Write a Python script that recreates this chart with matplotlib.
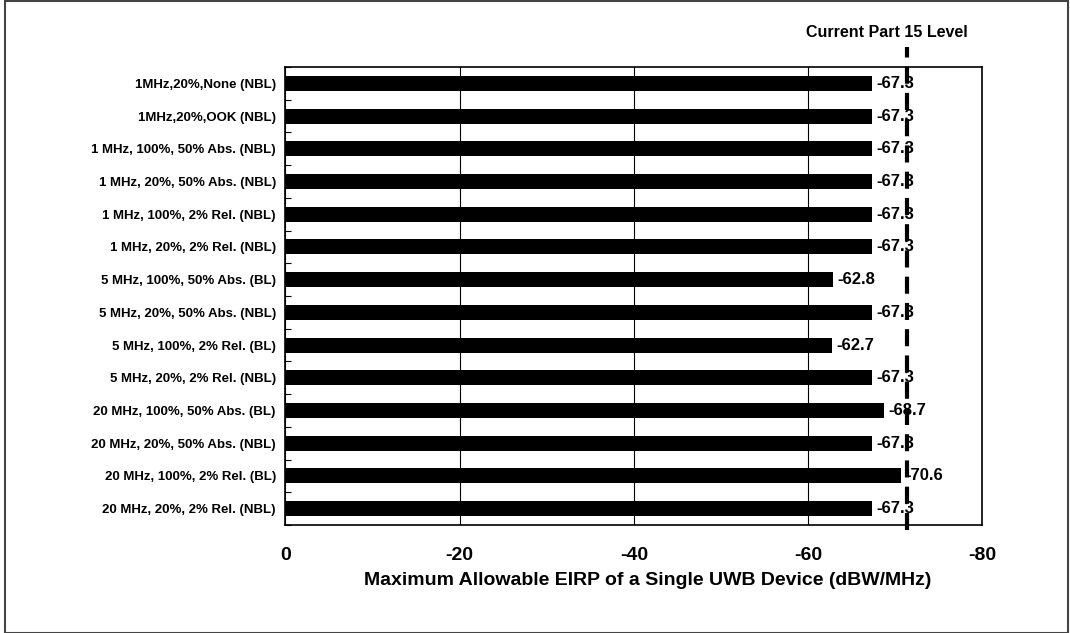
import numpy as np
import matplotlib
matplotlib.use("Agg")
import matplotlib.pyplot as plt
from matplotlib.patches import Rectangle

plt.rcParams['font.family'] = ['Liberation Sans', 'DejaVu Sans']
plt.rcParams['font.weight'] = 'bold'

labels = [
    "1MHz,20%,None (NBL)",
    "1MHz,20%,OOK (NBL)",
    "1 MHz, 100%, 50% Abs. (NBL)",
    "1 MHz, 20%, 50% Abs. (NBL)",
    "1 MHz, 100%, 2% Rel. (NBL)",
    "1 MHz, 20%, 2% Rel. (NBL)",
    "5 MHz, 100%, 50% Abs. (BL)",
    "5 MHz, 20%, 50% Abs. (NBL)",
    "5 MHz, 100%, 2% Rel. (BL)",
    "5 MHz, 20%, 2% Rel. (NBL)",
    "20 MHz, 100%, 50% Abs. (BL)",
    "20 MHz, 20%, 50% Abs. (NBL)",
    "20 MHz, 100%, 2% Rel. (BL)",
    "20 MHz, 20%, 2% Rel. (NBL)",
]
values = [-67.3, -67.3, -67.3, -67.3, -67.3, -67.3, -62.8,
          -67.3, -62.7, -67.3, -68.7, -67.3, -70.6, -67.3]
part15_level = -71.3
xticks = [0, -20, -40, -60, -80]

fig = plt.figure(figsize=(10.7, 6.33), dpi=100)
ax = fig.add_axes([0.2668, 0.1706, 0.6514, 0.7236])

y = np.arange(len(labels))
ax.barh(y, values, height=0.46, color='black', zorder=3)
for yi, v in zip(y, values):
    ax.text(v - 0.55, yi, f"{v:.1f}", va='center', ha='left',
            fontsize=12, fontweight='bold', zorder=5)

# current Part 15 level, dashed and running past the frame
ax.axvline(part15_level, ymin=-0.011, ymax=1.044, color='black', lw=3,
           dashes=(4.1, 2.2), clip_on=False, zorder=4)
ax.text(-69.0, 1.076, "Current Part 15 Level", transform=ax.get_xaxis_transform(),
        ha='center', va='center', fontsize=11.5, fontweight='bold')

ax.set_xlim(0, -80)
ax.set_ylim(len(labels) - 0.5, -0.5)
ax.set_xticks(xticks)
ax.set_xticklabels([str(t) for t in xticks], fontsize=14, fontweight='bold')
ax.tick_params(axis='x', length=0, pad=16)
ax.set_yticks(y)
ax.set_yticklabels(labels, fontsize=9.5, fontweight='bold')
ax.tick_params(axis='y', which='major', length=0, pad=7)
ax.set_yticks(np.arange(len(labels) + 1) - 0.5, minor=True)
ax.tick_params(axis='y', which='minor', direction='in', length=4, width=0.8)
ax.grid(axis='x', color='black', lw=0.8, zorder=1)
for s in ax.spines.values():
    s.set_linewidth(1.2)

ax.set_xlabel("Maximum Allowable EIRP of a Single UWB Device (dBW/MHz)",
              fontsize=14, fontweight='bold')
ax.xaxis.set_label_coords(0.519, -0.103)

fig.patches.append(Rectangle((0.005, 0.0), 0.993, 0.998, transform=fig.transFigure,
                             fill=False, edgecolor='#444444', lw=1.5))

fig.savefig("out.png", dpi=100)
